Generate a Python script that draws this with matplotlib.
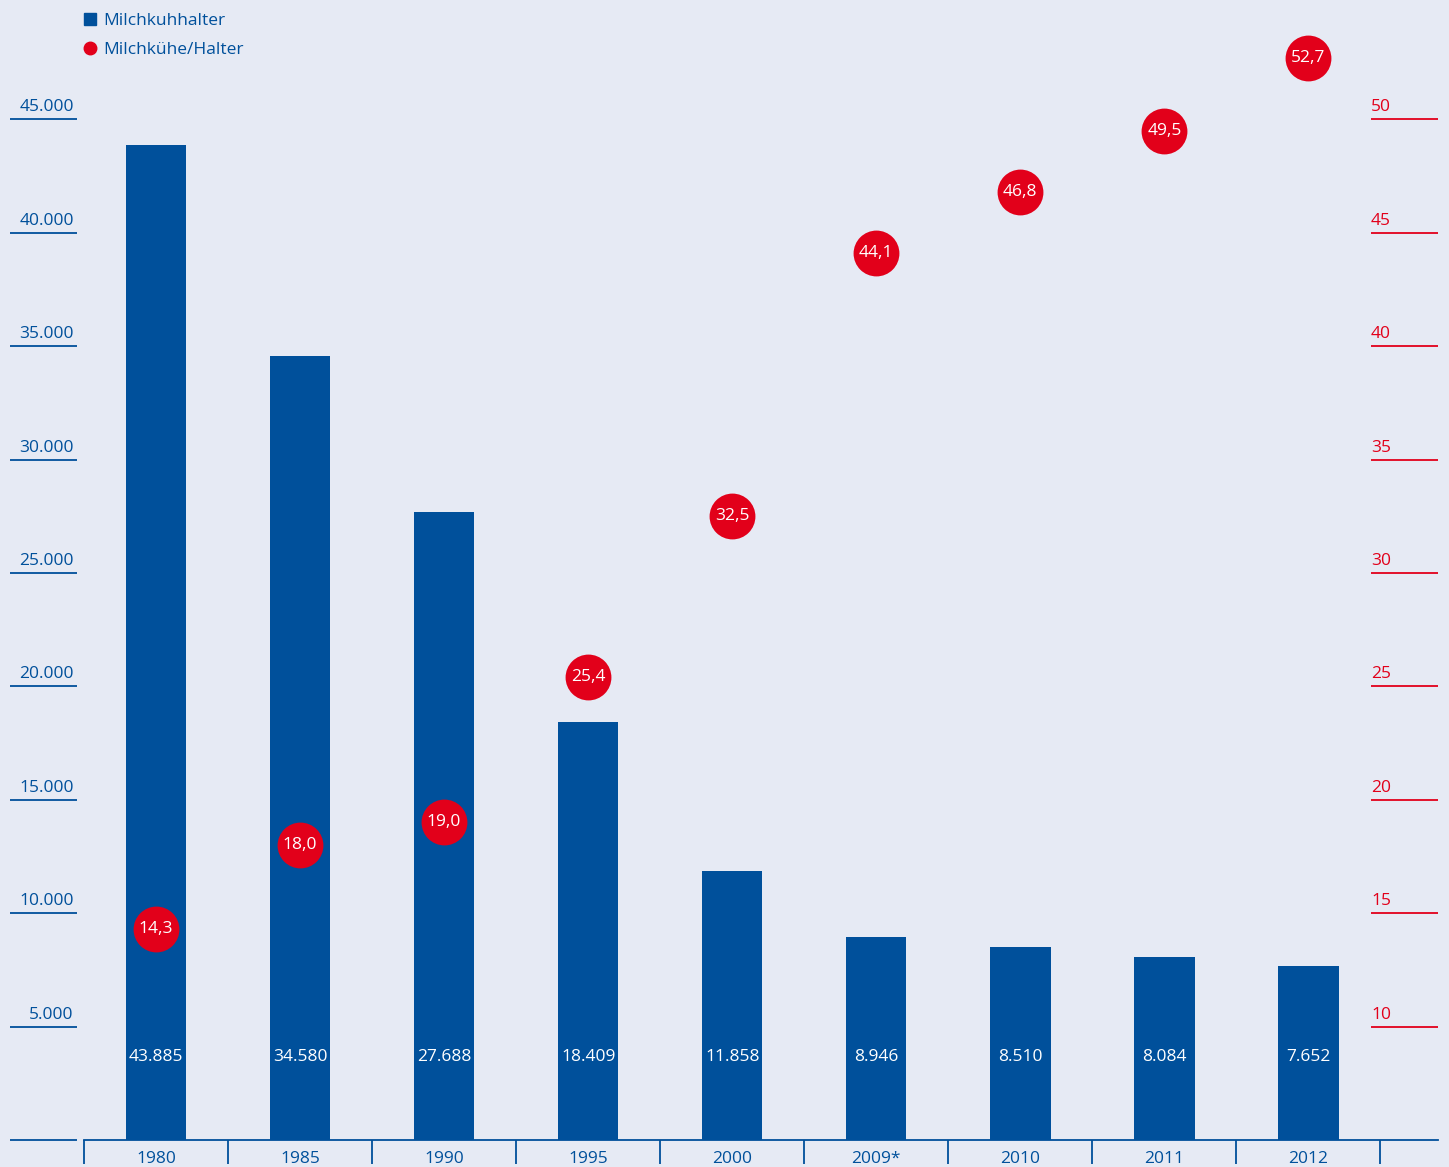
import numpy as np
import matplotlib.pyplot as plt
from matplotlib.lines import Line2D

# data
years = ['1980', '1985', '1990', '1995', '2000', '2009*', '2010', '2011', '2012']
halter = [43885, 34580, 27688, 18409, 11858, 8946, 8510, 8084, 7652]
kuehe_je_halter = [14.3, 18.0, 19.0, 25.4, 32.5, 44.1, 46.8, 49.5, 52.7]
left_ticks = [5000, 10000, 15000, 20000, 25000, 30000, 35000, 40000, 45000]
right_ticks = [10, 15, 20, 25, 30, 35, 40, 45, 50]

blue = '#00509b'
red = '#e2001a'
bg = '#e6eaf4'
plt.rcParams['font.family'] = ['Open Sans', 'DejaVu Sans']
fs = 12.5

W, H = 1449, 1167
fig = plt.figure(figsize=(W / 100, H / 100), dpi=100, facecolor=bg)

bottom = (H - 1140) / H
height = 1140 / H
ytop = 1140 / 113.4 * 5000  # left scale at top of figure

ax = fig.add_axes([84 / W, bottom, (1438 - 84) / W, height])
ax.set_facecolor('none')
x = np.arange(len(years))
ax.bar(x, halter, width=0.42, color=blue, zorder=2)
for xi, v in zip(x, halter):
    ax.text(xi, 3650, f'{v:,}'.replace(',', '.'), color='white', fontsize=fs,
            ha='center', va='center', zorder=3)
ax.set_xlim(-0.5, 8.9)
ax.set_ylim(0, ytop)
ax.set_yticks([])
for s in ['top', 'left', 'right']:
    ax.spines[s].set_visible(False)
ax.spines['bottom'].set_color(blue)
ax.spines['bottom'].set_linewidth(1.3)
ax.set_xticks(x)
ax.set_xticklabels(years, color=blue, fontsize=fs)
ax.tick_params(axis='x', which='major', length=0, pad=8)
ax.set_xticks(np.arange(-0.5, len(years)), minor=True)
ax.tick_params(axis='x', which='minor', length=17, width=1.3, color=blue, direction='out')

# right scale for Milchkühe/Halter
ax2 = ax.twinx()
ax2.set_ylim(5, 5 + ytop / 1000)
ax2.axis('off')
ax2.plot(x, kuehe_je_halter, 'o', color=red, markersize=33, markeredgewidth=0, zorder=4)
for xi, v in zip(x, kuehe_je_halter):
    ax2.text(xi, v, f'{v:.1f}'.replace('.', ','), color='white', fontsize=fs,
             ha='center', va='center', zorder=5)

# left tick scale
axl = fig.add_axes([10 / W, bottom, 67 / W, height])
axl.set_ylim(0, ytop)
axl.set_xlim(0, 1)
axl.axis('off')
axl.hlines([0] + left_ticks, 0, 1, color=blue, lw=1.3, clip_on=False)
for t in left_ticks:
    axl.text(0.95, t + 180, f'{t:,}'.replace(',', '.'), color=blue, fontsize=fs,
             ha='right', va='bottom')

# right tick scale
axr = fig.add_axes([1371 / W, bottom, 67 / W, height])
axr.set_ylim(5, 5 + ytop / 1000)
axr.set_xlim(0, 1)
axr.axis('off')
axr.hlines(right_ticks, 0, 1, color=red, lw=1.3)
for t in right_ticks:
    axr.text(0.0, t + 0.18, str(t), color=red, fontsize=fs, ha='left', va='bottom')

handles = [Line2D([], [], marker='s', color=blue, ls='none', markersize=8),
           Line2D([], [], marker='o', color=red, ls='none', markersize=9)]
leg = fig.legend(handles, ['Milchkuhhalter', 'Milchkühe/Halter'], loc='upper left',
                 bbox_to_anchor=(84 / W, 1 - 13 / H), frameon=False, fontsize=fs,
                 handlelength=0.7, handletextpad=0.4, labelspacing=0.75,
                 borderaxespad=0, borderpad=0)
for t in leg.get_texts():
    t.set_color(blue)

fig.savefig('out.png', dpi=100, facecolor=bg)
